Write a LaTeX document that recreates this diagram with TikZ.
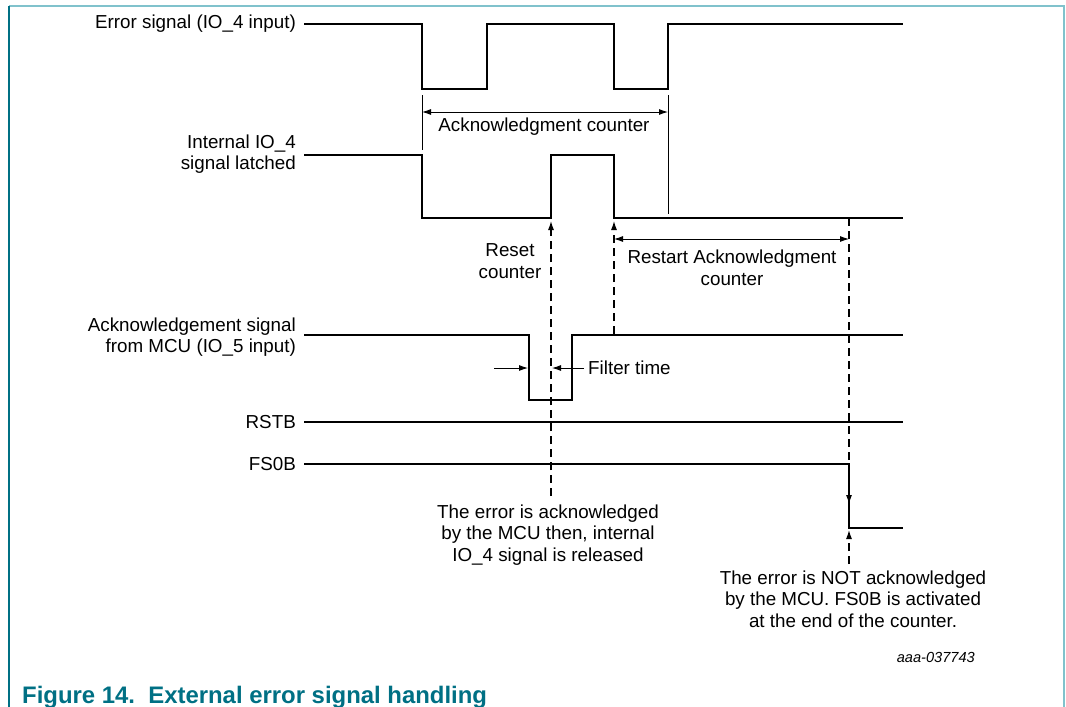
\documentclass[tikz,border=0pt]{standalone}
\usepackage{fontspec}
\setmainfont{Liberation Sans}
\usetikzlibrary{arrows.meta}
\definecolor{nxpteal}{RGB}{0,112,132}
\definecolor{framelight}{RGB}{128,194,204}

\begin{document}
\begin{tikzpicture}[x=1pt,y=-1pt,
    font=\fontsize{18.8}{21.5}\selectfont,
    wave/.style={line width=2.8pt},
    fine/.style={line width=0.9pt},
    guide/.style={line width=1.1pt,dash pattern=on 8pt off 5pt},
    tip/.style={-{Latex[length=9pt,width=6pt]}},
    both/.style={{Latex[length=9pt,width=6pt]}-{Latex[length=9pt,width=6pt]}},
    lbl/.style={anchor=east,align=right,inner sep=0pt},
    txt/.style={align=center,inner sep=0pt}]
                \useasboundingbox (0,0) rectangle (1066,707);

                \draw[framelight,line width=1.5pt] (9,6) -- (1064,6) -- (1064,707);
                \draw[nxpteal,line width=1.3pt] (9,6) -- (9,707);

                \node[lbl] (errlbl) at (296,24) {Error signal (IO\_4 input)};
                \node[lbl] (latchlbl) at (296,154) {Internal IO\_4\\signal latched};
                \node[lbl] (acklbl) at (296,337) {Acknowledgement signal\\from MCU (IO\_5 input)};
                \node[lbl] (rstblbl) at (296,422) {RSTB};
                \node[lbl] (fsblbl) at (296,464) {FS0B};

                \draw[wave] (304,24) -- (422,24) -- (422,89) -- (487,89) -- (487,24) -- (614,24) -- (614,89) -- (668,89) -- (668,24) -- (903,24);
                \draw[wave] (304,155) -- (422,155) -- (422,218) -- (551,218) -- (551,155) -- (614,155) -- (614,218) -- (903,218);
                \draw[wave] (304,335) -- (529,335) -- (529,400) -- (572,400) -- (572,335) -- (903,335);
                \draw[wave] (304,422) -- (903,422);
                \draw[wave] (304,464) -- (849,464) -- (849,528) -- (903,528);

                \draw[fine] (422,95) -- (422,150);
                \draw[fine] (668,95) -- (668,214);
                \draw[fine,both] (422,112) -- (668,112);
                \node[txt] (cnt) at (544,127) {Acknowledgment counter};

                \node[txt] (reset) at (510,261) {Reset\\counter};
                \draw[fine,both] (614,239) -- (849,239);
                \node[txt] (restart) at (732,268) {Restart Acknowledgment\\counter};

                \draw[fine,tip] (494,368) -- (528,368);
                \draw[fine,tip] (584,368) -- (552,368);
                \node[anchor=west,inner sep=0pt] (filter) at (588,368) {Filter time};

                \node[txt] (acktxt) at (548,535) {The error is acknowledged\\by the MCU then, internal\\IO\_4 signal is released};
                \node[txt] (notacktxt) at (853,599) {The error is NOT acknowledged\\by the MCU. FS0B is activated\\at the end of the counter.};

                \draw[guide,tip] (551,496) -- (551,221);
                \draw[guide,tip] (614,334) -- (614,221);
                \draw[guide] (849,218) -- (849,462);
                \draw[fine,tip] (849,470) -- (849,504);
                \draw[guide,tip] (849,564) -- (849,530);

                \node[anchor=east,inner sep=0pt,font=\fontsize{14.6}{17}\selectfont\itshape] (docid) at (975,657) {aaa-037743};
                \node[anchor=base west,inner sep=0pt,text=nxpteal,font=\fontsize{23.9}{27}\selectfont\bfseries] (caption) at (22,703) {Figure 14.\ \ External error signal handling};
            \end{tikzpicture}
\end{document}
